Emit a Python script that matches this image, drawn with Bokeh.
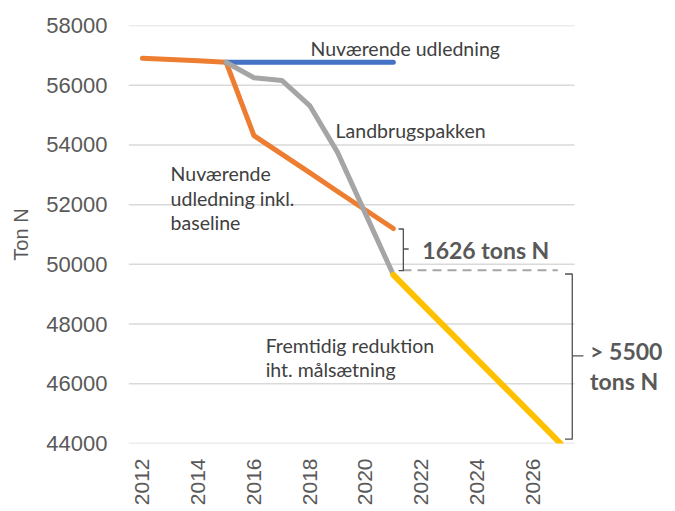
import math
from bokeh.plotting import figure
from bokeh.models import Range1d, FixedTicker, Label
from bokeh.embed import file_html
from bokeh.resources import INLINE

# ---- data ----
x_ticks = [2012, 2014, 2016, 2018, 2020, 2022, 2024, 2026]
y_ticks = [44000, 46000, 48000, 50000, 52000, 54000, 56000, 58000]
category_span = (2011.5, 2027.5)   # year categories 2012..2027

orange_years = [2012, 2013, 2014, 2015, 2016, 2017, 2018, 2019, 2020, 2021]
orange_vals = [56900, 56860, 56820, 56770, 54310, 53690, 53070, 52440, 51820, 51200]

blue_years = [2015, 2016, 2017, 2018, 2019, 2020, 2021]
blue_vals = [56770, 56770, 56770, 56770, 56770, 56770, 56770]

gray_years = [2015, 2016, 2017, 2018, 2019, 2020, 2021]
gray_vals = [56770, 56250, 56160, 55320, 53750, 51700, 49650]

yellow_years = [2021, 2022, 2023, 2024, 2025, 2026, 2027]
yellow_vals = [49650, 48700, 47760, 46820, 45880, 44940, 44000]

# dashed reference line and the two braces
dash_x = [2021.33, 2026.9]
dash_y = [49800, 49800]
brace1_x = [2021.19, 2021.36, 2021.36, 2021.19]
brace1_y = [51185, 51185, 49787, 49787]
brace1_tick_x = [2021.36, 2021.55]
brace1_tick_y = [50515, 50515]
brace2_x = [2027.16, 2027.42, 2027.42, 2027.16]
brace2_y = [49677, 49677, 44146, 44146]
brace2_tick_x = [2027.42, 2027.82]
brace2_tick_y = [46938, 46938]

note_texts = ["Nuværende udledning", "Landbrugspakken", "Nuværende",
              "udledning inkl.", "baseline", "Fremtidig reduktion",
              "iht. målsætning"]
note_x = [2018.03, 2018.93, 2013.01, 2013.01, 2013.01, 2016.42, 2016.42]
note_y = [57229, 54480, 53039, 52201, 51397, 47274, 46469]

big_texts = ["1626 tons N", "> 5500", "tons N"]
big_x = [2022.04, 2028.06, 2028.06]
big_y = [50491, 47106, 46083]

# ---- figure ----
px_per_year = 446 / (category_span[1] - category_span[0])
x_end = category_span[0] + (675 - 128) / px_per_year
p = figure(width=675, height=511, output_backend="svg", toolbar_location=None,
           x_range=Range1d(category_span[0], x_end), y_range=Range1d(44000, 58000),
           min_border_left=128, min_border_right=0, min_border_top=25,
           min_border_bottom=68)
p.outline_line_color = None
p.background_fill_color = "white"
p.border_fill_color = "white"

p.xgrid.visible = False
p.ygrid.visible = False
# horizontal gridlines spanning only the category area
p.segment(x0=[category_span[0]] * len(y_ticks), x1=[category_span[1]] * len(y_ticks),
          y0=y_ticks, y1=y_ticks, line_color="#d9d9d9", line_width=1.5)

p.yaxis.ticker = FixedTicker(ticks=y_ticks)
p.xaxis.ticker = FixedTicker(ticks=x_ticks)
for ax in (p.xaxis[0], p.yaxis[0]):
    ax.axis_line_color = None
    ax.major_tick_line_color = None
    ax.minor_tick_line_color = None
    ax.major_label_text_color = "#595959"
    ax.major_label_text_font = "Liberation Sans"
    ax.major_tick_out = 0
    ax.major_tick_in = 0

p.yaxis.major_label_text_font_size = "22px"
p.yaxis.major_label_standoff = 21
p.xaxis.major_label_text_font_size = "21px"
p.xaxis.major_label_orientation = math.pi / 2
p.xaxis.major_label_standoff = 15

p.yaxis.axis_label = "Ton N"
p.yaxis.axis_label_text_font = "Liberation Sans"
p.yaxis.axis_label_text_font_style = "normal"
p.yaxis.axis_label_text_font_size = "20px"
p.yaxis.axis_label_text_color = "#595959"
p.yaxis.axis_label_standoff = 11

# ---- lines ----
p.line(orange_years, orange_vals, line_color="#ED7D31", line_width=5,
       line_cap="round", line_join="round")
p.line(blue_years, blue_vals, line_color="#4472C4", line_width=5,
       line_cap="round", line_join="round")
p.line(gray_years, gray_vals, line_color="#A5A5A5", line_width=5,
       line_cap="round", line_join="round")
p.line(yellow_years, yellow_vals, line_color="#FFC000", line_width=6,
       line_cap="round", line_join="round")

p.line(dash_x, dash_y, line_color="#A6A6A6", line_width=2, line_dash="9 6")
p.line(brace1_x, brace1_y, line_color="#505050", line_width=1.3)
p.line(brace1_tick_x, brace1_tick_y, line_color="#505050", line_width=1.3)
p.line(brace2_x, brace2_y, line_color="#505050", line_width=1.3)
p.line(brace2_tick_x, brace2_tick_y, line_color="#505050", line_width=1.3)

# ---- texts ----
for t, x, y in zip(note_texts, note_x, note_y):
    p.add_layout(Label(x=x, y=y, text=t, text_font="Lato", text_font_size="19.5px",
                       text_color="#404040", text_baseline="middle", text_align="left"))
for t, x, y in zip(big_texts, big_x, big_y):
    p.add_layout(Label(x=x, y=y, text=t, text_font="Lato", text_font_size="23px",
                       text_font_style="bold", text_color="#595959",
                       text_baseline="middle", text_align="left"))

open("out.html", "w").write(file_html(p, INLINE))
